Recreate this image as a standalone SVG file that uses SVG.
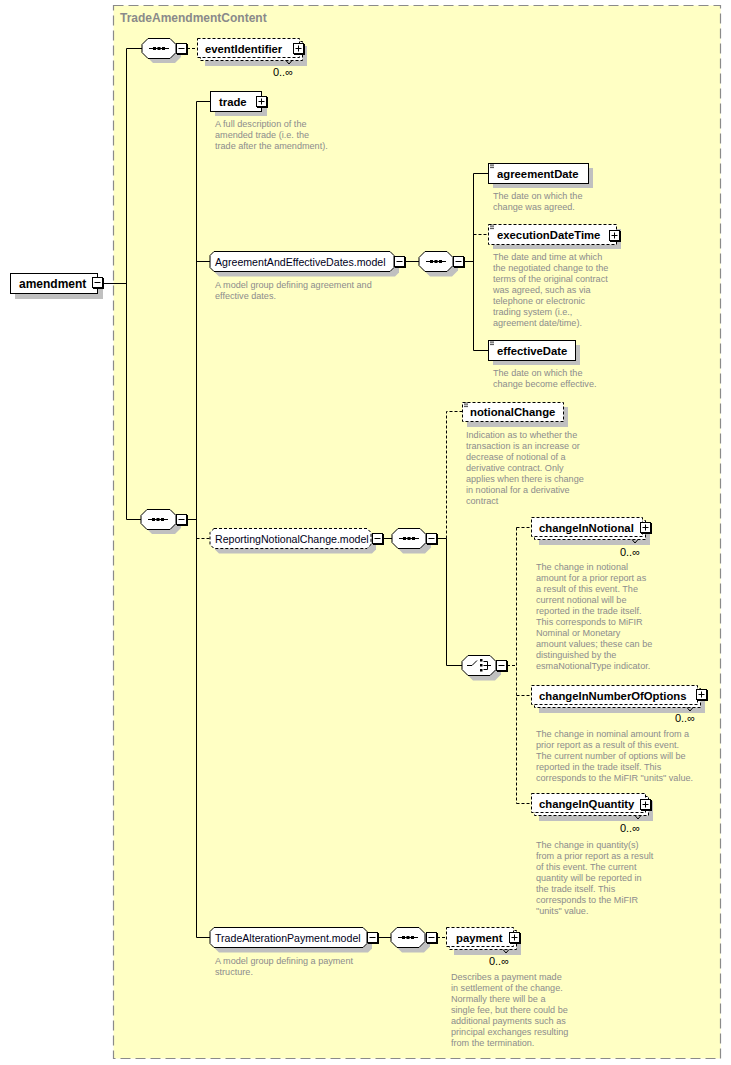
<svg xmlns="http://www.w3.org/2000/svg" width="731" height="1065" viewBox="0 0 731 1065">
<defs>
<style>
.bg{fill:#ffffff}
.cont{fill:#ffffc4;stroke:#8a8a8a;stroke-width:1.2;stroke-dasharray:10,5}
.title{font-family:"Liberation Sans",Arial,sans-serif;font-size:12px;font-weight:bold;fill:#8a8a8a}
.box{fill:#fff;stroke:#000;stroke-width:1}
.dbox{fill:#fff;stroke:#000;stroke-width:1;stroke-dasharray:3,2}
.sh{fill:#c0c0c0}
.en{font-family:"Liberation Sans",Arial,sans-serif;font-size:11.3px;font-weight:bold;fill:#000}
.mn{font-family:"Liberation Sans",Arial,sans-serif;font-size:10.6px;fill:#000020}
.ds{font-family:"Liberation Sans",Arial,sans-serif;font-size:9.1px;fill:#8c8c8c}
.mu{font-family:"Liberation Sans",Arial,sans-serif;font-size:11px;fill:#000;text-anchor:end}
.ln{fill:none;stroke:#000;stroke-width:1}
.dl{fill:none;stroke:#000;stroke-width:1;stroke-dasharray:3,2}
.pm{fill:#fff;stroke:#000;stroke-width:1}
.pmsh{fill:#000}
.ic{fill:none;stroke:#000;stroke-width:1}
</style>
<g id="minus">
<rect class="pmsh" x="1" y="1" width="11" height="11"/>
<rect class="pm" x="0.5" y="0.5" width="10" height="10"/>
<path class="ic" d="M2.5,5.5 H8.5"/>
</g>
<g id="plus">
<rect class="pmsh" x="1" y="1" width="11" height="11"/>
<rect class="pm" x="0.5" y="0.5" width="10" height="10"/>
<path class="ic" d="M2.5,5.5 H8.5 M5.5,2.5 V8.5"/>
</g>
<g id="seqicon">
<path class="ic" d="M7,10.5 H27"/>
<rect x="11" y="9" width="3" height="3" fill="#000"/>
<rect x="15.5" y="9" width="3" height="3" fill="#000"/>
<rect x="20" y="9" width="3" height="3" fill="#000"/>
</g>
<g id="stype">
<path d="M2,2 H6 M2,3.8 H6 M2,5.6 H6" stroke="#000" stroke-width="0.7" fill="none"/>
</g>
</defs>

<rect class="bg" x="0" y="0" width="731" height="1065"/>

<g id="container">
<rect class="cont" x="113.5" y="5.5" width="607" height="1053"/>
<text class="title" x="120" y="22">TradeAmendmentContent</text>
</g>

<g id="connectors">
<path class="ln" d="M104,283.5 H126.5 M126.5,48.5 V519.5 M126.5,48.5 H142 M126.5,519.5 H141"/>
<path class="dl" d="M187,48.5 H197"/>
<path class="ln" d="M187,519.5 H196.5 M196.5,101.5 V937.5 M196.5,101.5 H210 M196.5,261.5 H210 M196.5,937.5 H210"/>
<path class="dl" d="M196.5,538.5 H210"/>
<path class="ln" d="M405,261.5 H419 M464,261.5 H473.5 M473.5,173.5 V350.5 M473.5,173.5 H488 M473.5,350.5 H488"/>
<path class="dl" d="M473.5,234.5 H488"/>
<path class="ln" d="M383,538.5 H392 M437,538.5 H446.5 M446.5,538.5 V665.5 H462"/>
<path class="dl" d="M446.5,538.5 V411.5 H462"/>
<path class="dl" d="M507,665.5 H516.5 M516.5,527.5 V803.5 M516.5,527.5 H531 M516.5,695.5 H531 M516.5,803.5 H531"/>
<path class="ln" d="M378,937.5 H391"/>
<path class="dl" d="M437,937.5 H446"/>
</g>

<g id="amendment">
<rect class="sh" x="15" y="278" width="88" height="21"/>
<rect class="box" x="10.5" y="273.5" width="87" height="20"/>
<text class="en" x="19" y="287.5" style="font-size:12px">amendment</text>
<use href="#minus" x="92" y="277"/>
</g>

<g id="seq1">
<path class="sh" d="M153,43 H175 L181,49 V57 L175,63 H153 L147,57 V49 Z"/>
<path class="box" d="M148,38.5 H170 L176,44.5 V52.5 L170,58.5 H148 L142,52.5 V44.5 Z"/>
<use href="#seqicon" x="142" y="38"/>
<use href="#minus" x="176" y="43"/>
</g>

<g id="eventIdentifier">
<rect class="sh" x="205" y="46" width="102" height="20"/>
<rect class="dbox" x="200.5" y="41.5" width="102" height="19"/>
<rect class="dbox" x="197.5" y="38.5" width="102" height="19"/>
<path class="ln" d="M286,60.5 L289,64 L292,60.5" stroke-width="0.8"/>
<text class="en" x="205" y="52.5">eventIdentifier</text>
<use href="#plus" x="293" y="43"/>
<text class="mu" x="293" y="75.5">0..∞</text>
</g>

<g id="seq2">
<path class="sh" d="M152,514 H175 L181,520 V528 L175,534 H152 L146,528 V520 Z"/>
<path class="box" d="M147,509.5 H170 L176,515.5 V523.5 L170,529.5 H147 L141,523.5 V515.5 Z"/>
<use href="#seqicon" x="141" y="509"/>
<use href="#minus" x="176" y="514"/>
</g>

<g id="trade">
<rect class="sh" x="215" y="96" width="52" height="20"/>
<rect class="box" x="210.5" y="91.5" width="51" height="20"/>
<text class="en" x="219" y="105.5">trade</text>
<use href="#plus" x="256" y="96"/>
<text class="ds" x="215" y="127">A full description of the</text>
<text class="ds" x="215" y="138">amended trade (i.e. the</text>
<text class="ds" x="215" y="149">trade after the amendment).</text>
</g>

<g id="AgreementAndEffectiveDates.model">
<path class="sh" d="M219,256.5 H395 L399,260.5 V272.5 L395,276.5 H219 L215,272.5 V260.5 Z"/>
<path class="box" d="M214,251.5 H390 L394,255.5 V267.5 L390,271.5 H214 L210,267.5 V255.5 Z"/>
<text class="mn" x="215" y="265.5">AgreementAndEffectiveDates.model</text>
<use href="#minus" x="394" y="256"/>
<text class="ds" x="215" y="287.5">A model group defining agreement and</text>
<text class="ds" x="215" y="298.5">effective dates.</text>
</g>

<g id="seq3">
<path class="sh" d="M430,256.5 H452 L458,262.5 V270.5 L452,276.5 H430 L424,270.5 V262.5 Z"/>
<path class="box" d="M425,251.5 H447 L453,257.5 V265.5 L447,271.5 H425 L419,265.5 V257.5 Z"/>
<use href="#seqicon" x="419" y="251"/>
<use href="#minus" x="453" y="256"/>
</g>

<g id="agreementDate">
<rect class="sh" x="493" y="168" width="100" height="20"/>
<rect class="box" x="488.5" y="163.5" width="100" height="20"/>
<use href="#stype" x="488" y="162"/>
<text class="en" x="497" y="177.5">agreementDate</text>
<text class="ds" x="493" y="199">The date on which the</text>
<text class="ds" x="493" y="210">change was agreed.</text>
</g>

<g id="executionDateTime">
<rect class="sh" x="493" y="229" width="128" height="20"/>
<rect class="dbox" x="488.5" y="224.5" width="128" height="20"/>
<use href="#stype" x="488" y="223"/>
<text class="en" x="497" y="238.5">executionDateTime</text>
<use href="#plus" x="609" y="230"/>
<text class="ds" x="493" y="260">The date and time at which</text>
<text class="ds" x="493" y="271">the negotiated change to the</text>
<text class="ds" x="493" y="282">terms of the original contract</text>
<text class="ds" x="493" y="293">was agreed, such as via</text>
<text class="ds" x="493" y="304">telephone or electronic</text>
<text class="ds" x="493" y="315">trading system (i.e.,</text>
<text class="ds" x="493" y="326">agreement date/time).</text>
</g>

<g id="effectiveDate">
<rect class="sh" x="493" y="345" width="87" height="20"/>
<rect class="box" x="488.5" y="340.5" width="87" height="20"/>
<use href="#stype" x="488" y="339"/>
<text class="en" x="497" y="354.5">effectiveDate</text>
<text class="ds" x="493" y="376">The date on which the</text>
<text class="ds" x="493" y="387">change become effective.</text>
</g>

<g id="ReportingNotionalChange.model">
<path class="sh" d="M219,533.5 H372 L376,537.5 V549.5 L372,553.5 H219 L215,549.5 V537.5 Z"/>
<path class="dbox" d="M214,528.5 H367 L371,532.5 V544.5 L367,548.5 H214 L210,544.5 V532.5 Z"/>
<text class="mn" x="215" y="542.5">ReportingNotionalChange.model</text>
<use href="#minus" x="372" y="533"/>
</g>

<g id="seq4">
<path class="sh" d="M403,533.5 H425 L431,539.5 V547.5 L425,553.5 H403 L397,547.5 V539.5 Z"/>
<path class="box" d="M398,528.5 H420 L426,534.5 V542.5 L420,548.5 H398 L392,542.5 V534.5 Z"/>
<use href="#seqicon" x="392" y="528"/>
<use href="#minus" x="426" y="533"/>
</g>

<g id="notionalChange">
<rect class="sh" x="467" y="407" width="101" height="20"/>
<rect class="dbox" x="462.5" y="402.5" width="101" height="19"/>
<use href="#stype" x="462" y="401"/>
<text class="en" x="470" y="416">notionalChange</text>
<text class="ds" x="466" y="437.5">Indication as to whether the</text>
<text class="ds" x="466" y="448.5">transaction is an increase or</text>
<text class="ds" x="466" y="459.5">decrease of notional of a</text>
<text class="ds" x="466" y="470.5">derivative contract. Only</text>
<text class="ds" x="466" y="481.5">applies when there is change</text>
<text class="ds" x="466" y="492.5">in notional for a derivative</text>
<text class="ds" x="466" y="503.5">contract</text>
</g>

<g id="choice">
<path class="sh" d="M473,660.5 H495 L501,666.5 V674.5 L495,680.5 H473 L467,674.5 V666.5 Z"/>
<path class="box" d="M468,655.5 H490 L496,661.5 V669.5 L490,675.5 H468 L462,669.5 V661.5 Z"/>
<path class="ic" d="M467,665.5 H472 L477,660.5 M483.5,661.5 H487.5 V669.5 H483.5 M483.5,665.5 H491"/>
<rect x="480" y="659" width="2.5" height="2.5" fill="#000"/>
<rect x="480" y="664" width="2.5" height="2.5" fill="#000"/>
<rect x="480" y="669" width="2.5" height="2.5" fill="#000"/>
<use href="#minus" x="496" y="660"/>
</g>

<g id="changeInNotional">
<rect class="sh" x="539" y="525" width="111" height="20"/>
<rect class="dbox" x="534.5" y="520.5" width="111" height="19"/>
<rect class="dbox" x="531.5" y="517.5" width="111" height="19"/>
<path class="ln" d="M632,539.5 L635,543 L638,539.5" stroke-width="0.8"/>
<text class="en" x="539" y="531.5">changeInNotional</text>
<use href="#plus" x="640" y="522"/>
<text class="mu" x="640" y="555.5">0..∞</text>
<text class="ds" x="536" y="570">The change in notional</text>
<text class="ds" x="536" y="581">amount for a prior report as</text>
<text class="ds" x="536" y="592">a result of this event. The</text>
<text class="ds" x="536" y="603">current notional will be</text>
<text class="ds" x="536" y="614">reported in the trade itself.</text>
<text class="ds" x="536" y="625">This corresponds to MiFIR</text>
<text class="ds" x="536" y="636">Nominal or Monetary</text>
<text class="ds" x="536" y="647">amount values; these can be</text>
<text class="ds" x="536" y="658">distinguished by the</text>
<text class="ds" x="536" y="669">esmaNotionalType indicator.</text>
</g>

<g id="changeInNumberOfOptions">
<rect class="sh" x="539" y="693" width="166" height="20"/>
<rect class="dbox" x="534.5" y="688.5" width="166" height="19"/>
<rect class="dbox" x="531.5" y="685.5" width="166" height="19"/>
<path class="ln" d="M687,707.5 L690,711 L693,707.5" stroke-width="0.8"/>
<text class="en" x="539" y="699.5">changeInNumberOfOptions</text>
<use href="#plus" x="696" y="689"/>
<text class="mu" x="695" y="722">0..∞</text>
<text class="ds" x="536" y="737">The change in nominal amount from a</text>
<text class="ds" x="536" y="748">prior report as a result of this event.</text>
<text class="ds" x="536" y="759">The current number of options will be</text>
<text class="ds" x="536" y="770">reported in the trade itself. This</text>
<text class="ds" x="536" y="781">corresponds to the MiFIR "units" value.</text>
</g>

<g id="changeInQuantity">
<rect class="sh" x="539" y="801" width="114" height="20"/>
<rect class="dbox" x="534.5" y="796.5" width="114" height="19"/>
<rect class="dbox" x="531.5" y="793.5" width="114" height="19"/>
<path class="ln" d="M635,815.5 L638,819 L641,815.5" stroke-width="0.8"/>
<text class="en" x="539" y="807.5">changeInQuantity</text>
<use href="#plus" x="640" y="799"/>
<text class="mu" x="640" y="831.5">0..∞</text>
<text class="ds" x="536" y="848">The change in quantity(s)</text>
<text class="ds" x="536" y="859">from a prior report as a result</text>
<text class="ds" x="536" y="870">of this event. The current</text>
<text class="ds" x="536" y="881">quantity will be reported in</text>
<text class="ds" x="536" y="892">the trade itself. This</text>
<text class="ds" x="536" y="903">corresponds to the MiFIR</text>
<text class="ds" x="536" y="914">"units" value.</text>
</g>

<g id="TradeAlterationPayment.model">
<path class="sh" d="M219,932.5 H368 L372,936.5 V948.5 L368,952.5 H219 L215,948.5 V936.5 Z"/>
<path class="box" d="M214,927.5 H363 L367,931.5 V943.5 L363,947.5 H214 L210,943.5 V931.5 Z"/>
<text class="mn" x="215" y="941.5">TradeAlterationPayment.model</text>
<use href="#minus" x="367" y="932"/>
<text class="ds" x="215" y="963.5">A model group defining a payment</text>
<text class="ds" x="215" y="974.5">structure.</text>
</g>

<g id="seq5">
<path class="sh" d="M402,932.5 H424 L430,938.5 V946.5 L424,952.5 H402 L396,946.5 V938.5 Z"/>
<path class="box" d="M397,927.5 H419 L425,933.5 V941.5 L419,947.5 H397 L391,941.5 V933.5 Z"/>
<use href="#seqicon" x="391" y="927"/>
<use href="#minus" x="426" y="932"/>
</g>

<g id="payment">
<rect class="sh" x="454" y="935" width="67" height="20"/>
<rect class="dbox" x="449.5" y="930.5" width="67" height="19"/>
<rect class="dbox" x="446.5" y="927.5" width="67" height="19"/>
<path class="ln" d="M503,949.5 L506,953 L509,949.5" stroke-width="0.8"/>
<text class="en" x="456" y="941.5">payment</text>
<use href="#plus" x="509" y="932"/>
<text class="mu" x="509" y="965">0..∞</text>
<text class="ds" x="451" y="980">Describes a payment made</text>
<text class="ds" x="451" y="991">in settlement of the change.</text>
<text class="ds" x="451" y="1002">Normally there will be a</text>
<text class="ds" x="451" y="1013">single fee, but there could be</text>
<text class="ds" x="451" y="1024">additional payments such as</text>
<text class="ds" x="451" y="1035">principal exchanges resulting</text>
<text class="ds" x="451" y="1046">from the termination.</text>
</g>
</svg>
